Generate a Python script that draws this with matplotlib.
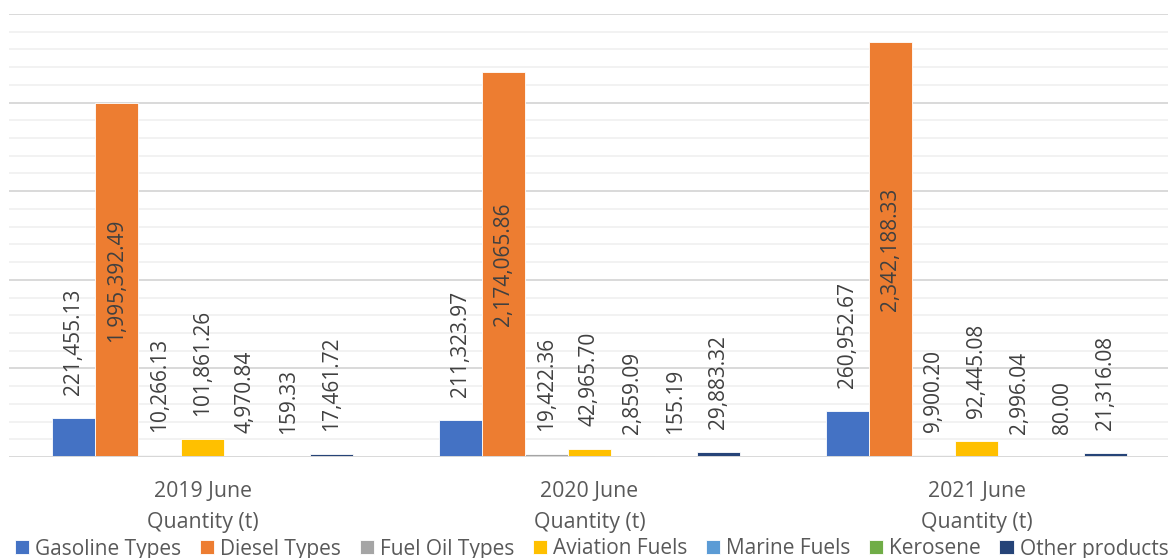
import matplotlib
matplotlib.use("Agg")
import matplotlib.pyplot as plt
import numpy as np

# Monthly quantities (tonnes) per product group
periods = ["2019 June\nQuantity (t)", "2020 June\nQuantity (t)", "2021 June\nQuantity (t)"]
series_names = ["Gasoline Types", "Diesel Types", "Fuel Oil Types", "Aviation Fuels",
                "Marine Fuels", "Kerosene", "Other products"]
gasoline = [221455.13, 211323.97, 260952.67]
diesel = [1995392.49, 2174065.86, 2342188.33]
fuel_oil = [10266.13, 19422.36, 9900.20]
aviation = [101861.26, 42965.70, 92445.08]
marine = [4970.84, 2859.09, 2996.04]
kerosene = [159.33, 155.19, 80.00]
other = [17461.72, 29883.32, 21316.08]
colors = ["#4472C4", "#ED7D31", "#A5A5A5", "#FFC000", "#5B9BD5", "#70AD47", "#264478"]

series = [gasoline, diesel, fuel_oil, aviation, marine, kerosene, other]

plt.rcParams["font.family"] = ["Open Sans", "DejaVu Sans"]

fig = plt.figure(figsize=(11.68, 5.58), dpi=100)
ax = fig.add_axes([9 / 1168, 101 / 558, 1161 / 1168, 443 / 558])

x = np.arange(len(periods))
n = len(series)
width = 0.111
offsets = (np.arange(n) - (n - 1) / 2) * width

for i, (vals, col, name) in enumerate(zip(series, colors, series_names)):
    bars = ax.bar(x + offsets[i], vals, width=width, color=col, label=name,
                  edgecolor="white", linewidth=0.6, zorder=3)
    for rect, v in zip(bars, vals):
        cx = rect.get_x() + rect.get_width() / 2
        txt = f"{v:,.2f}"
        if name == "Diesel Types":
            ax.text(cx, v / 2, txt, rotation=90, ha="center", va="center",
                    fontsize=15, color="#404040", zorder=4)
        else:
            ax.annotate(txt, (cx, v), xytext=(0, 16.5), textcoords="offset points",
                        rotation=90, ha="center", va="bottom",
                        fontsize=15, color="#404040", zorder=4)

ax.set_xlim(-0.5, 2.5)
ax.set_ylim(0, 2500000)

# Gridlines: major every 500k, minor every 100k
for y in np.arange(100000, 2500001, 100000):
    if y % 500000 == 0:
        ax.axhline(y, color="#D9D9D9", linewidth=1.4, zorder=1)
    else:
        ax.axhline(y, color="#F0F0F0", linewidth=1.2, zorder=1)
ax.axhline(0, color="#D9D9D9", linewidth=1.4, zorder=5)

for s in ax.spines.values():
    s.set_visible(False)
ax.set_yticks([])
ax.set_xticks(x)
ax.set_xticklabels(periods, fontsize=15.3, color="#595959", linespacing=1.66)
ax.tick_params(axis="x", length=0, pad=17)

fig.legend(loc="center left", bbox_to_anchor=(15 / 1168, 9 / 558), ncol=7,
           frameon=False, fontsize=15.0, labelcolor="#595959",
           handlelength=0.68, handleheight=0.68, handletextpad=0.3,
           columnspacing=0.88, borderaxespad=0, borderpad=0)

fig.savefig("out.png", dpi=100)
